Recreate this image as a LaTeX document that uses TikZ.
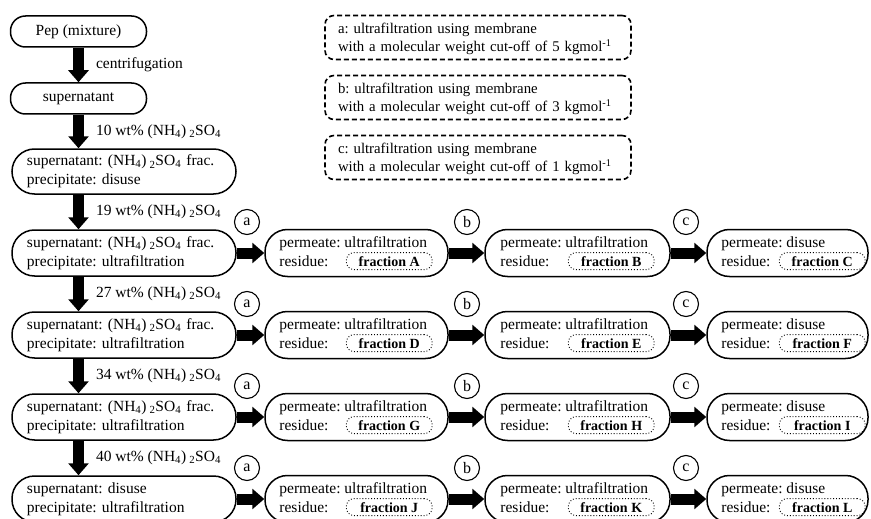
\documentclass[tikz,border=0pt]{standalone}
\usepackage{fontspec}
\setmainfont{Liberation Serif}
\usetikzlibrary{arrows.meta,calc}
\frenchspacing
\newcommand{\mfs}{\fontsize{15.5pt}{19pt}\selectfont}
\newcommand{\lfs}{\fontsize{14.8pt}{18pt}\selectfont}
\newcommand{\amsul}{(NH\textsubscript{4})\hspace{3pt}\textsubscript{2}SO\textsubscript{4}}
\newcommand{\fractxt}{\amsul{} frac.}
\begin{document}
\begin{tikzpicture}[x=1pt,y=-1pt,
  box/.style={draw, line width=1.5pt, rounded corners=22.5pt, inner sep=0pt, font=\mfs},
  sbox/.style={box, rounded corners=15pt, minimum width=136pt, minimum height=31pt},
  lbox/.style={box, minimum width=224pt, minimum height=46pt, text width=194pt, align=left},
  rbox/.style={box, minimum height=47pt},
  txt/.style={inner sep=0pt, font=\mfs},
  fbox/.style={draw, dotted, line width=0.9pt, rounded corners=8pt, minimum width=86pt,
     inner xsep=2pt, inner ysep=3.5pt, font=\bfseries\fontsize{14pt}{16pt}\selectfont},
  circ/.style={draw, circle, line width=1.1pt, minimum size=25pt, inner sep=0pt, font=\fontsize{16pt}{18pt}\selectfont},
  legbox/.style={draw, dashed, dash pattern=on 5pt off 3pt, line width=1.6pt, rounded corners=9pt,
     text width=280pt, inner xsep=13pt, inner ysep=0pt, minimum height=44pt, align=left, font=\lfs},
  bigarrow/.style={line width=11pt, -{Triangle[length=12pt, width=20pt]}},
  lab/.style={anchor=west, inner sep=0pt, xshift=12pt, font=\mfs}
]
\useasboundingbox (0,0) rectangle (871,519);
\coordinate (ax) at (78.5,0);

% legend
\node[legbox] (la) at (478,37.5) {\rule{0pt}{13pt}a: ultrafiltration using membrane\\with a molecular weight cut-off of 5 kgmol\textsuperscript{-1}};
\node[legbox] (lb) at (478,97.5) {\rule{0pt}{13pt}b: ultrafiltration using membrane\\with a molecular weight cut-off of 3 kgmol\textsuperscript{-1}};
\node[legbox] (lc) at (478,157.5) {\rule{0pt}{13pt}c: ultrafiltration using membrane\\with a molecular weight cut-off of 1 kgmol\textsuperscript{-1}};

% main column
\node[sbox] (pep) at (78.5,31.5) {Pep (mixture)};
\node[sbox] (sup) at (78.5,98.5) {supernatant};
\node[lbox, minimum height=45pt] (b3) at (124,171.5) {supernatant: \fractxt\\precipitate: disuse};

\foreach \r/\rc/\fa/\fb/\fc/\st in {1/253/A/B/C/\fractxt, 2/335/D/E/F/\fractxt, 3/417/G/H/I/\fractxt, 4/499/J/K/L/disuse}{
  \node[lbox] (L\r) at (124,\rc) {supernatant: \st\\precipitate: ultrafiltration};
  \node[rbox, minimum width=183pt] (A\r) at (356.5,\rc) {};
  \node[rbox, minimum width=185pt] (B\r) at (577.5,\rc) {};
  \node[rbox, minimum width=161pt] (C\r) at (787.5,\rc) {};
  \node[txt, anchor=base west] (pA\r) at ($(A\r.west)+(15,-6)$) {permeate: ultrafiltration};
  \node[txt, anchor=base west] (qA\r) at ($(A\r.west)+(15,13)$) {residue:};
  \node[fbox, anchor=base] (fA\r) at ($(A\r.west)+(125,13)$) {fraction \fa};
  \node[txt, anchor=base west] (pB\r) at ($(B\r.west)+(16,-6)$) {permeate: ultrafiltration};
  \node[txt, anchor=base west] (qB\r) at ($(B\r.west)+(16,13)$) {residue:};
  \node[fbox, anchor=base] (fB\r) at ($(B\r.west)+(127,13)$) {fraction \fb};
  \node[txt, anchor=base west] (pC\r) at ($(C\r.west)+(15,-6)$) {permeate: disuse};
  \node[txt, anchor=base west] (qC\r) at ($(C\r.west)+(15,13)$) {residue:};
  \node[fbox, anchor=base] (fC\r) at ($(C\r.west)+(116,13)$) {fraction \fc};
  \draw[bigarrow] (L\r.east) -- (A\r.west);
  \draw[bigarrow] (A\r.east) -- (B\r.west);
  \draw[bigarrow] (B\r.east) -- (C\r.west);
  \node[circ] (ca\r) at (247,\rc-31) {a};
  \node[circ] (cb\r) at (467,\rc-31) {b};
  \node[circ] (cc\r) at (686,\rc-31) {c};
}

% vertical arrows
\draw[bigarrow] (pep.south) -- (sup.north) node[lab, midway] (t0) {centrifugation};
\draw[bigarrow] (sup.south) -- (ax |- b3.north) node[lab, midway] (t1) {10 wt\% \amsul};
\draw[bigarrow] (ax |- b3.south) -- (ax |- L1.north) node[lab, midway] (t2) {19 wt\% \amsul};
\draw[bigarrow] (ax |- L1.south) -- (ax |- L2.north) node[lab, midway] (t3) {27 wt\% \amsul};
\draw[bigarrow] (ax |- L2.south) -- (ax |- L3.north) node[lab, midway] (t4) {34 wt\% \amsul};
\draw[bigarrow] (ax |- L3.south) -- (ax |- L4.north) node[lab, midway] (t5) {40 wt\% \amsul};
\end{tikzpicture}
\end{document}
